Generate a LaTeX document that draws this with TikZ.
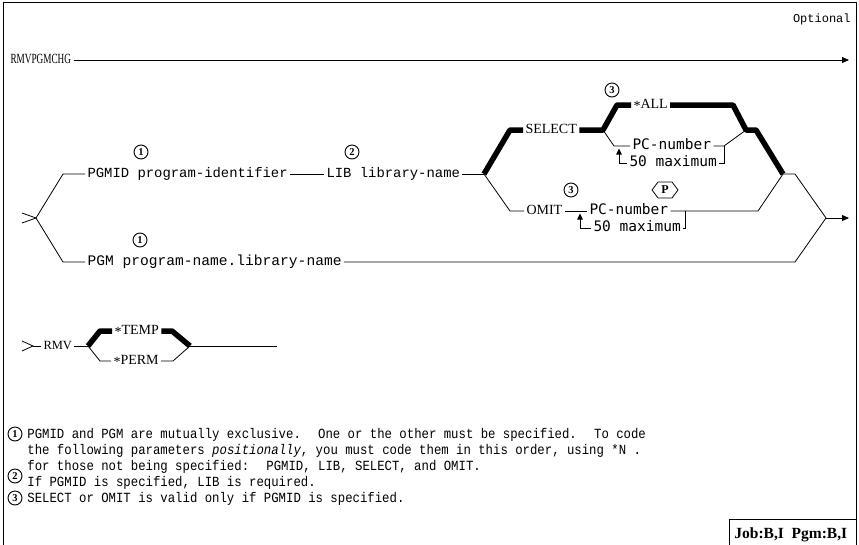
\documentclass[tikz,border=0pt]{standalone}
\usepackage{fontspec}
\setmainfont{Liberation Serif}
\newfontfamily\monofont{Liberation Mono}
\newfontfamily\gothfont{DejaVu Sans Mono}
\usetikzlibrary{arrows.meta}
\begin{document}
\begin{tikzpicture}[x=1pt,y=-1pt,
  every path/.style={line width=0.8pt},
  heavy/.style={line width=5.5pt, line join=bevel},
  lbl/.style={inner sep=0pt, outer sep=2.5pt, anchor=west, text height=0.68em, text depth=0pt, font=\fontsize{14}{16}\selectfont},
  mono/.style={inner sep=0pt, outer sep=2.5pt, anchor=west, text height=0.6em, text depth=0pt, font=\monofont\fontsize{13.9}{16}\selectfont},
  goth/.style={inner sep=0pt, outer sep=2.5pt, anchor=west, text height=0.7em, text depth=0pt, font=\gothfont\fontsize{14.5}{16}\selectfont},
  note/.style={inner sep=0pt, anchor=base west, font=\monofont\fontsize{14}{16}\selectfont},
  num/.style={circle, draw, line width=0.9pt, inner sep=0pt, minimum size=14pt, font=\bfseries\fontsize{10.5}{10}\selectfont},
  tip/.style={-{Triangle[length=7pt,width=6pt]}},
  uptip/.style={-{Triangle[length=6pt,width=5.5pt]}},
]
\fill[white] (0,0) rectangle (859,544);
\useasboundingbox (0,0) rectangle (859,544);
% frame
\coordinate (fr1) at (3,546); \coordinate (fr2) at (3,2.5);
\coordinate (fr3) at (856,2.5); \coordinate (fr4) at (856,546);
\draw (fr1) -- (fr2) -- (fr3) -- (fr4);
\node[inner sep=0pt, anchor=east, font=\monofont\fontsize{12}{13}\selectfont] (opt) at (851,19) {Optional};

% top line
\node[lbl, font=\fontsize{14}{16}\selectfont] (cmd) at (8,60) {\scalebox{0.66}[1]{RMVPGMCHG}};
\coordinate (topend) at (849,60);
\draw[tip] (cmd) -- (topend);

% main fork
\coordinate (gin1) at (22,213); \coordinate (F0) at (36,218); \coordinate (gin2) at (22,223);
\draw (gin1) -- (F0) -- (gin2);
\coordinate (F0a) at (63,174); \coordinate (F0b) at (63,262);
\node[mono] (pgmid) at (85,174) {PGMID program-identifier};
\node[mono] (lib) at (324,174) {LIB library-name};
\node[num] (n1a) at (141,152) {1};
\node[num] (n2) at (352,152) {2};
\draw (F0) -- (F0a) -- (pgmid);
\draw (pgmid) -- (lib);
\coordinate (F1) at (484,174);
\draw (lib) -- (F1);

% SELECT branch
\coordinate (s1) at (510,130);
\node[lbl] (select) at (523,130) {SELECT};
\draw[heavy] (F1) -- (s1) -- (select);
\coordinate (s2) at (603,130); \coordinate (s3) at (617,105);
\node[lbl] (all) at (631,105) {\raisebox{-0.3ex}{*}ALL};
\draw[heavy] (select) -- (s2) -- (s3) -- (all);
\coordinate (s4) at (733,105); \coordinate (J1) at (746,130);
\coordinate (J1b) at (756,130); \coordinate (J2) at (783,174);
\draw[heavy] (all) -- (s4) -- (J1) -- (J1b) -- (J2);
\node[num] (n3a) at (612,90) {3};

\coordinate (p1) at (614,146);
\node[goth] (pc1) at (630,146) {PC-number};
\draw (s2) -- (p1) -- (pc1);
\coordinate (p2) at (724,146); \coordinate (p3) at (724,163);
\draw (pc1) -- (p2) -- (J1);
\node[goth] (max1) at (627,163) {50 maximum};
\draw (p2) -- (p3) -- (max1);
\coordinate (u1) at (619,163); \coordinate (u1t) at (619,148.5);
\draw[uptip] (max1) -- (u1) -- (u1t);

% OMIT branch
\coordinate (o1) at (510,211);
\node[lbl] (omit) at (524,211) {OMIT};
\draw (F1) -- (o1) -- (omit);
\node[num] (n3b) at (571,190) {3};
\node[goth] (pc2) at (587,211) {PC-number};
\draw (omit) -- (pc2);
\node[goth] (max2) at (591,228) {50 maximum};
\coordinate (u2) at (580,228); \coordinate (u2t) at (580,213.5);
\draw[uptip] (max2) -- (u2) -- (u2t);
\coordinate (q2) at (685,211); \coordinate (q3) at (685,228); \coordinate (o2) at (758,211);
\draw (pc2) -- (q2) -- (o2) -- (J2);
\draw (q2) -- (q3) -- (max2);
\node[inner sep=0pt, font=\bfseries\fontsize{12}{12}\selectfont] (hexP) at (665,190) {P};
\draw (652,190) -- (658,182) -- (672,182) -- (678,190) -- (672,198) -- (658,198) -- cycle;

% join and exit
\coordinate (J2b) at (795,174); \coordinate (J3) at (826,218); \coordinate (exitend) at (849,218);
\draw (J2) -- (J2b) -- (J3);
\draw[tip] (J3) -- (exitend);

% PGM branch
\node[mono, font=\monofont\fontsize{14.6}{16}\selectfont] (pgm) at (85,262) {PGM program-name.library-name};
\node[num] (n1b) at (140,240) {1};
\coordinate (g1) at (795,262);
\draw (F0) -- (F0b) -- (pgm);
\draw (pgm) -- (g1) -- (J3);

% RMV
\coordinate (r0a) at (22,341); \coordinate (r0) at (33,346); \coordinate (r0b) at (22,351);
\draw (r0a) -- (r0) -- (r0b);
\node[lbl, font=\fontsize{12.5}{14}\selectfont] (rmv) at (41,346) {RMV};
\draw (r0) -- (rmv);
\coordinate (R1) at (88,346);
\draw (rmv) -- (R1);
\coordinate (t1) at (100,331);
\node[lbl] (temp) at (112,331) {\raisebox{-0.3ex}{*}TEMP};
\draw[heavy] (R1) -- (t1) -- (temp);
\coordinate (t2) at (172,331); \coordinate (R2) at (190,346);
\draw[heavy] (temp) -- (t2) -- (R2);
\coordinate (R3) at (277,346);
\draw (R2) -- (R3);
\coordinate (m1) at (100,361);
\node[lbl] (perm) at (111,361) {\raisebox{-0.3ex}{*}PERM};
\coordinate (m2) at (173,361);
\draw (R1) -- (m1) -- (perm);
\draw (perm) -- (m2) -- (R2);

% footnotes
\node[num] (f1) at (15,434) {1};
\node[note] (fn1) at (27,438) {\scalebox{0.88}[1]{PGMID and PGM are mutually exclusive.~ One or the other must be specified.~ To code}};
\node[note] (fn2) at (27,454) {\scalebox{0.88}[1]{the following parameters {\itshape positionally}, you must code them in this order, using *N .}};
\node[note] (fn3) at (27,470) {\scalebox{0.88}[1]{for those not being specified:~ PGMID, LIB, SELECT, and OMIT.}};
\node[num] (f2) at (15,476) {2};
\node[note] (fn4) at (27,486) {\scalebox{0.88}[1]{If PGMID is specified, LIB is required.}};
\node[num] (f3) at (15,498) {3};
\node[note] (fn5) at (27,502) {\scalebox{0.88}[1]{SELECT or OMIT is valid only if PGMID is specified.}};

% job box
\coordinate (jb1) at (729,546); \coordinate (jb2) at (729,519); \coordinate (jb3) at (856,519);
\draw (jb1) -- (jb2) -- (jb3);
\node[inner sep=0pt, anchor=west, font=\bfseries\fontsize{15.5}{16}\selectfont] (job) at (734,535) {Job:B,I~ Pgm:B,I};
\end{tikzpicture}
\end{document}
